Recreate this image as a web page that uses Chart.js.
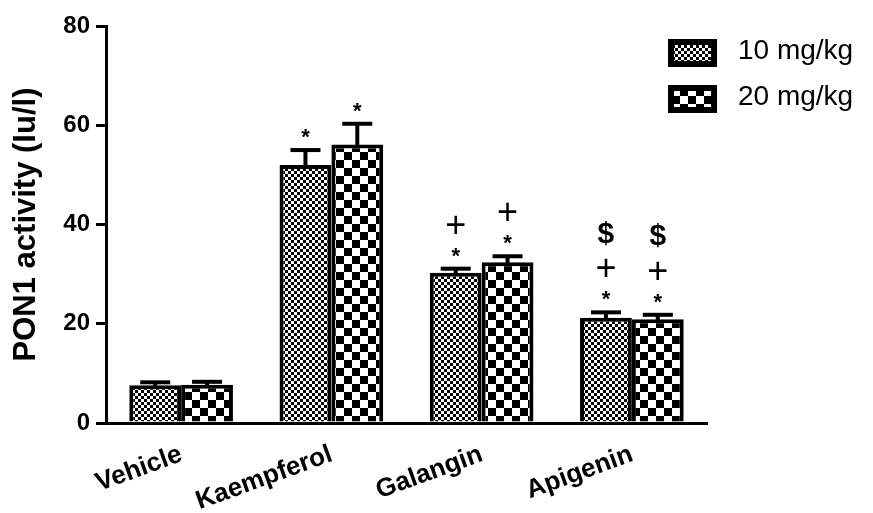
<!DOCTYPE html>
<html><head><meta charset="utf-8">
<script src="https://cdn.jsdelivr.net/npm/chart.js@4"></script>
<style>html,body{margin:0;padding:0;background:#fff}#wrap{width:873px;height:513px}</style>
</head><body><div id="wrap"><canvas id="c" width="873" height="513"></canvas></div>
<script>
const categories = ["Vehicle", "Kaempferol", "Galangin", "Apigenin"];
const seriesLabels = ["10 mg/kg", "20 mg/kg"];
const values10 = [7.6, 52.0, 30.3, 21.2];
const values20 = [7.7, 56.1, 32.4, 20.9];
const errors10 = [0.6, 3.0, 0.8, 1.1];
const errors20 = [0.6, 4.2, 1.2, 0.9];
const marks10 = ["", "*", "*+", "*+$"];
const marks20 = ["", "*", "*+", "*+$"];
const yTicks = [0, 20, 40, 60, 80];
const yTitle = "PON1 activity (Iu/l)";

const FONT = '"Liberation Sans", Arial, sans-serif';
function makePattern(kind){
  const c = document.createElement('canvas');
  const ctx = c.getContext('2d');
  if(kind === 'fine'){
    c.width = 6; c.height = 6;
    ctx.fillStyle = '#000'; ctx.fillRect(0,0,6,6);
    ctx.fillStyle = '#fff'; ctx.fillRect(0,0,3,3); ctx.fillRect(3,3,3,3);
  } else {
    c.width = 16; c.height = 16;
    ctx.fillStyle = '#fff'; ctx.fillRect(0,0,16,16);
    ctx.fillStyle = '#000'; ctx.fillRect(0,0,8,8); ctx.fillRect(8,8,8,8);
  }
  return document.getElementById('c').getContext('2d').createPattern(c,'repeat');
}
const pats = [makePattern('fine'), makePattern('coarse')];

const errMarkPlugin = {
  id: 'errmark',
  afterDatasetsDraw(chart){
    const ctx = chart.ctx;
    const y = chart.scales.y;
    const errs = [errors10, errors20];
    const marks = [marks10, marks20];
    ctx.save();
    chart.data.datasets.forEach((ds, di) => {
      const meta = chart.getDatasetMeta(di);
      meta.data.forEach((bar, i) => {
        const v = ds.data[i];
        const yTop = y.getPixelForValue(v + errs[di][i]);
        const yBar = y.getPixelForValue(v);
        ctx.fillStyle = '#000';
        ctx.fillRect(bar.x - 2, yTop, 4, yBar - yTop + 2);
        ctx.fillRect(bar.x - 15, yTop - 2, 30, 4);
        const m = marks[di][i];
        const offs = {'*': 17, '+': 42, '$': 78};
        for(const ch of m){
          const yy = yTop - offs[ch];
          ctx.textAlign = 'center'; ctx.textBaseline = 'middle';
          if(ch === '*'){ ctx.font = 'bold 22px ' + FONT; ctx.fillText('*', bar.x, yy + 5); }
          else if(ch === '+'){ ctx.font = '36px ' + FONT; ctx.fillText('+', bar.x, yy); }
          else { ctx.font = 'bold 30px ' + FONT; ctx.fillText('$', bar.x, yy); }
        }
      });
    });
    // legend
    const lx = 668, ly = [53, 99];
    chart.data.datasets.forEach((ds, di) => {
      ctx.fillStyle = '#000';
      ctx.fillRect(lx, ly[di] - 14, 49, 28);
      ctx.fillStyle = pats[di];
      ctx.fillRect(lx + 6, ly[di] - 8, 37, 16);
      ctx.fillStyle = '#000';
      ctx.font = '28px ' + FONT;
      ctx.textAlign = 'left'; ctx.textBaseline = 'middle';
      ctx.fillText(ds.label, lx + 70, ly[di] - 2);
    });
    ctx.restore();
  }
};

new Chart(document.getElementById('c'), {
  type: 'bar',
  data: {
    labels: categories,
    datasets: [
      {label: seriesLabels[0], data: values10, backgroundColor: pats[0], borderColor: '#000', borderWidth: 4, borderSkipped: 'bottom'},
      {label: seriesLabels[1], data: values20, backgroundColor: pats[1], borderColor: '#000', borderWidth: 4, borderSkipped: 'bottom'}
    ]
  },
  options: {
    responsive: false,
    animation: false,
    layout: {padding: {top: 26, right: 166, left: 8, bottom: 0}},
    plugins: {legend: {display: false}, tooltip: {enabled: false}},
    datasets: {bar: {categoryPercentage: 0.69, barPercentage: 1.0}},
    scales: {
      x: {
        afterFit(s){ s.height = 90; },
        grid: {display: false, drawTicks: false},
        border: {display: true, color: '#000', width: 3},
        ticks: {color: '#000', font: {family: FONT, size: 26, weight: 'bold'}, minRotation: 20, maxRotation: 20, padding: 16}
      },
      y: {
        min: 0, max: 80,
        afterFit(s){ s.width = 98; },
        afterBuildTicks(s){ s.ticks = yTicks.map(v => ({value: v})); },
        grid: {display: true, drawOnChartArea: false, drawTicks: true, tickLength: 10, lineWidth: 3, color: '#000'},
        border: {display: true, color: '#000', width: 3},
        ticks: {color: '#000', padding: 6, font: {family: FONT, size: 24, weight: 'bold'}},
        title: {display: true, text: yTitle, color: '#000', font: {family: FONT, size: 31, weight: 'bold'}, padding: {top: 0, bottom: 0}}
      }
    }
  },
  plugins: [errMarkPlugin]
});
</script></body></html>
